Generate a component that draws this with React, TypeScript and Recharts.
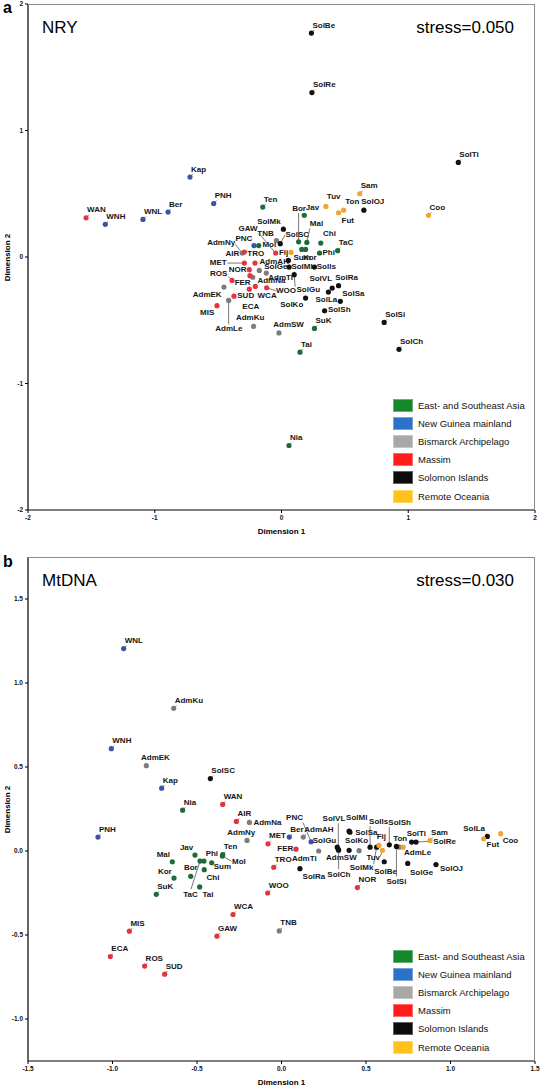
import { ScatterChart, Scatter, XAxis, YAxis } from "recharts";

const groups = [
  "East- and Southeast Asia",
  "New Guinea mainland",
  "Bismarck Archipelago",
  "Massim",
  "Solomon Islands",
  "Remote Oceania",
];
const dotColors = ["#1d6a3b", "#3d52a4", "#7c7c7c", "#e5343d", "#111111", "#f0a432"];
const swatchColors = ["#16882a", "#2a73c9", "#a8a8a8", "#ff1c1c", "#0c0c0c", "#ffc21a"];

// panel a: NRY
const nryNames = [
  "Ten", "Jav", "Bor", "Mal", "Chi", "Phi", "TaC", "Sum", "Kor", "Mol", "SuK", "Tai", "Nia",
  "Kap", "PNH", "Ber", "WNL", "WNH", "PNC",
  "TNB", "AdmNy", "AdmTi", "AdmAH", "AdmNa", "AdmEK", "AdmLe", "AdmKu", "AdmSW",
  "WAN", "AIR", "GAW", "MET", "TRO", "NOR", "FER", "ROS", "ECA", "WCA", "WOO", "SUD", "MIS",
  "SolBe", "SolRe", "SolTi", "SolOJ", "SolMk", "SolSC", "SolGe", "SolMl", "Solls", "SolGu",
  "SolVL", "SolSa", "SolRa", "SolLa", "SolKo", "SolSh", "SolSi", "SolCh",
  "Tuv", "Ton", "Fut", "Sam", "Coo", "Fij",
];
const nryX = [
  -0.148, 0.18, 0.135, 0.2, 0.31, 0.3, 0.443, 0.16, 0.19, -0.18, 0.26, 0.146, 0.059,
  -0.722, -0.535, -0.895, -1.093, -1.39, -0.217,
  -0.04, -0.31, -0.175, -0.12, -0.227, -0.454, -0.417, -0.22, -0.02,
  -1.542, -0.293, -0.046, -0.293, -0.209, -0.254, -0.249, -0.39, -0.254, -0.207, -0.117, -0.375, -0.509,
  0.236, 0.24, 1.395, 0.65, 0.015, -0.01, 0.054, 0.06, 0.26, 0.1,
  0.37, 0.4, 0.45, 0.464, 0.19, 0.34, 0.81, 0.927,
  0.35, 0.49, 0.45, 0.617, 1.16, 0.075,
];
const nryY = [
  0.395, 0.33, 0.12, 0.115, 0.11, 0.03, 0.05, 0.06, 0.06, 0.09, -0.565, -0.752, -1.49,
  0.632, 0.423, 0.355, 0.297, 0.258, 0.09,
  0.13, 0.03, -0.106, -0.127, -0.16, -0.238, -0.343, -0.549, -0.6,
  0.31, 0.039, 0.031, -0.048, -0.048, -0.1, -0.148, -0.185, -0.254, -0.233, -0.243, -0.31, -0.385,
  1.77, 1.3, 0.748, 0.37, 0.22, 0.105, -0.027, -0.08, -0.08, -0.14,
  -0.277, -0.246, -0.227, -0.35, -0.325, -0.425, -0.517, -0.73,
  0.4, 0.37, 0.35, 0.5, 0.33, 0.036,
];
const nryGroup = [
  0, 0, 0, 0, 0, 0, 0, 0, 0, 0, 0, 0, 0,
  1, 1, 1, 1, 1, 1,
  2, 2, 2, 2, 2, 2, 2, 2, 2,
  3, 3, 3, 3, 3, 3, 3, 3, 3, 3, 3, 3, 3,
  4, 4, 4, 4, 4, 4, 4, 4, 4, 4, 4, 4, 4, 4, 4, 4, 4, 4,
  5, 5, 5, 5, 5, 5,
];

// panel b: MtDNA
const mtNames = [
  "Ten", "Mol", "Jav", "Mal", "TaC", "Phi", "Sum", "Chi", "Bor", "Kor", "Tai", "SuK", "Nia",
  "WNL", "WNH", "Kap", "PNH", "Ber", "PNC",
  "AdmKu", "AdmEK", "AdmNa", "AdmNy", "AdmAH", "AdmTi", "AdmSW", "AdmLe", "TNB",
  "WAN", "AIR", "MET", "FER", "TRO", "WOO", "WCA", "GAW", "NOR", "MIS", "ECA", "ROS", "SUD",
  "SolSC", "SolRa", "SolMl", "SolSa", "SolVL", "SolGu", "SolCh", "SolKo", "Solls", "SolMk",
  "SolSh", "SolSi", "SolBe", "SolGe", "SolOJ", "SolTi", "SolRe", "SolLa",
  "Fij", "Tuv", "Ton", "Sam", "Fut", "Coo",
];
const mtX = [
  -0.348, -0.35, -0.512, -0.646, -0.482, -0.459, -0.413, -0.457, -0.537, -0.636, -0.484, -0.741, -0.585,
  -0.934, -1.007, -0.709, -1.086, 0.046, 0.175,
  -0.638, -0.8, -0.19, -0.204, 0.129, 0.22, 0.459, 0.697, -0.013,
  -0.348, -0.267, -0.08, 0.086, -0.046, -0.082, -0.287, -0.382, 0.449, -0.9, -1.013, -0.81, -0.691,
  -0.421, 0.109, 0.4, 0.405, 0.336, 0.33, 0.338, 0.4, 0.524, 0.563,
  0.638, 0.68, 0.608, 0.747, 0.914, 0.77, 0.796, 1.218,
  0.577, 0.597, 0.72, 0.879, 1.196, 1.297,
];
const mtY = [
  -0.022, -0.03, -0.024, -0.064, -0.06, -0.06, -0.07, -0.111, -0.151, -0.161, -0.214, -0.258, 0.243,
  1.205, 0.609, 0.374, 0.083, 0.083, 0.055,
  0.849, 0.508, 0.17, 0.063, 0.083, 0.0, 0.002, 0.023, -0.476,
  0.277, 0.176, 0.043, 0.011, -0.097, -0.25, -0.378, -0.507, -0.218, -0.477, -0.628, -0.685, -0.733,
  0.431, -0.105, 0.118, 0.112, 0.01, 0.023, 0.005, 0.004, 0.023, 0.023,
  0.037, 0.027, -0.064, -0.074, -0.081, 0.053, 0.053, 0.087,
  0.033, 0.004, 0.023, 0.063, 0.073, 0.103,
];
const mtGroup = nryGroup.slice();

const xTicksA = [-2, -1, 0, 1, 2];
const yTicksA = [-2, -1, 0, 1, 2];
const xTicksB = [-1.5, -1.0, -0.5, 0.0, 0.5, 1.0, 1.5];
const yTicksB = [-1.0, -0.5, 0.0, 0.5, 1.0, 1.5];

// label placement: [dx, baseline dy, anchor, leader x, leader y]
type Pos = [number, number, string?, number?, number?];
const nryLabelPos: Record<string, Pos> = {
  GAW: [-18, -22, "end", -17, -20],
  TNB: [-2.7, -4.7, "end"],
  SolMk: [-2.7, -4.7, "end"],
  SolSC: [5.3, -6.7, "start", 5, -9],
  Jav: [1.5, -5],
  Bor: [7.3, -31, "end", 0, -29],
  Mal: [3, -16, "start", 3, -14],
  Chi: [2.3, -7],
  Mol: [3.7, 1.7],
  PNC: [-1.7, -4.7, "end"],
  AdmNy: [-7, -8.3, "end", -7, -9],
  AIR: [-5, 3.7, "end"],
  TRO: [-7.7, -7.3],
  Fij: [-2.7, 2.3, "end"],
  Sum: [-8.3, 10.7],
  Kor: [-2.7, 10.7],
  Phi: [3, 1.7],
  MET: [-17.7, 1.7, "end", -17, 0],
  AdmAH: [-6.7, -9],
  SolGe: [-1, 8.7, "end"],
  SolMl: [2.3, 1.7],
  Solls: [2.3, 1.7],
  NOR: [-2.7, 2.3, "end"],
  AdmTi: [9, 9.3],
  ROS: [-4.7, -4, "end", -4, -4],
  FER: [-15.3, 9.7],
  AdmNa: [4.7, 5.7],
  SolVL: [-19, -10.7],
  SolRa: [-3.3, -5.3],
  SolSa: [10, 7.7],
  SolGu: [2.3, 17.7, "start", 1, 12],
  SolLa: [-3, 1, "end"],
  SolKo: [-2.3, 9, "end"],
  SolSh: [3.3, 1.7],
  WOO: [9.3, 5.3, "start", 9, 3],
  WCA: [2.3, 12],
  SUD: [3.3, 2],
  ECA: [-7, 19.7],
  AdmEK: [-2.3, 10, "end"],
  MIS: [-2.7, 9.7, "end"],
  AdmLe: [-13.3, 30.3, "start", 0, 24],
  AdmKu: [-17.7, -6],
  AdmSW: [-5.7, -5.7],
  Tuv: [1, -7.3],
  Ton: [1.7, -6],
  SolOJ: [-2.7, -6],
  Fut: [3, 10],
};
const mtLabelPos: Record<string, Pos> = {
  AdmEK: [-5.3, -5.7],
  AdmNa: [4, 2.3],
  AdmNy: [-19.7, -5.7],
  PNC: [-25, -21.3, "start", -8, -19],
  FER: [-2.7, 2.3, "end"],
  AdmTi: [-2, 10, "end"],
  SolRa: [2.7, 10],
  Mal: [-2.3, -4.7, "end"],
  Jav: [-1.7, -4.7, "end"],
  Phi: [1.7, -4.7],
  TaC: [-16.7, 36, "start", -9, 28],
  Bor: [7, -6, "end"],
  Chi: [2.3, 10],
  Sum: [2, 6.7],
  Mol: [9.7, 7.7, "start", 9, 5],
  Kor: [-2.3, -4.3, "end"],
  Tai: [2.7, 10],
  SolVL: [7, -28.3, "end", 0, -26],
  SolMl: [-3, -11.3],
  SolSa: [5.3, 2.7],
  SolGu: [-1, -4, "end"],
  SolKo: [-4, -7.3],
  AdmSW: [-2.3, 9.3, "end"],
  SolCh: [-11.3, 26.7, "start", 0, 19],
  SolMk: [-3.3, 23.3, "end", -3, 17],
  Solls: [-1, -23.3, "start", 0, -21],
  Fij: [-2.3, -6.7],
  Tuv: [-2.3, 10, "end", -2, 6],
  SolSh: [-1, -20, "start", 0, -18],
  Ton: [-10, -6],
  SolSi: [-10, 37.3, "start", 0, 30],
  SolBe: [-10, 12],
  AdmLe: [4.7, 8.3],
  SolGe: [2.3, 12],
  SolOJ: [4, 6.3],
  SolTi: [-5, -6],
  SolRe: [17.3, 1.7, "start", 16, -1],
  SolLa: [-2.3, -5.3, "end"],
  Fut: [3, 8.3],
  Coo: [2, 9],
};

const FONT = "Arial, 'Liberation Sans', Helvetica, sans-serif";

function buildSeries(names: string[], xs: number[], ys: number[], grp: number[], pos: Record<string, Pos>) {
  const rows = names.map((name, i) => ({ name, x: xs[i], y: ys[i], g: grp[i], pos: pos[name] }));
  return groups.map((_, g) => rows.filter((r) => r.g === g));
}

function PointMark(props: any) {
  const { cx, cy, payload, color } = props;
  if (cx == null || cy == null) return null;
  const [dx, dy, anchor = "start", lx, ly] = (payload.pos || [1, -5.5]) as Pos;
  const lead =
    lx !== undefined && ly !== undefined ? (
      <line x1={cx} y1={cy} x2={cx + lx} y2={cy + ly} stroke="#555" strokeWidth={0.8} />
    ) : !payload.pos ? (
      <line x1={cx + 0.5} y1={cy - 0.5} x2={cx + 2.8} y2={cy - 3} stroke="#555" strokeWidth={0.7} />
    ) : null;
  return (
    <g>
      {lead}
      <circle cx={cx} cy={cy} r={2.6} fill={color} />
      <text
        x={cx + dx}
        y={cy + dy}
        textAnchor={anchor as any}
        fontSize={8}
        fontWeight="bold"
        fontFamily={FONT}
        fill="#151515"
      >
        {payload.name}
      </text>
    </g>
  );
}

interface PanelProps {
  top: number;
  height: number;
  marginTop: number;
  marginBottom: number;
  xAxisHeight: number;
  series: any[][];
  xDomain: number[];
  yDomain: number[];
  xTicks: number[];
  yTicks: number[];
  decimals: number;
  title: string;
  stress: string;
}

function Panel(p: PanelProps) {
  const left = 28;
  const right = 535;
  const plotTop = p.marginTop;
  const plotBottom = p.height - p.marginBottom - p.xAxisHeight;
  const fmt = (v: number) => (p.decimals ? v.toFixed(p.decimals) : String(v));
  const tickStyle = { fontSize: 6.5, fontWeight: "bold", fill: "#111", fontFamily: FONT };
  return (
    <div style={{ position: "absolute", left: 0, top: p.top, width: 541, height: p.height }}>
      <ScatterChart
        width={541}
        height={p.height}
        margin={{ top: p.marginTop, right: 541 - right, bottom: p.marginBottom, left: 8 }}
      >
        <XAxis
          type="number"
          dataKey="x"
          domain={p.xDomain}
          ticks={p.xTicks}
          interval={0}
          tickFormatter={fmt}
          axisLine={{ stroke: "#000", strokeWidth: 1.2 }}
          tickLine={{ stroke: "#000" }}
          tickSize={3}
          tick={tickStyle}
          height={p.xAxisHeight}
          allowDataOverflow
        />
        <YAxis
          type="number"
          dataKey="y"
          domain={p.yDomain}
          ticks={p.yTicks}
          interval={0}
          tickFormatter={fmt}
          axisLine={{ stroke: "#000", strokeWidth: 1.2 }}
          tickLine={{ stroke: "#000" }}
          tickSize={3}
          tick={tickStyle}
          width={20}
          allowDataOverflow
        />
        {p.series.map((data, g) => (
          <Scatter
            key={groups[g]}
            name={groups[g]}
            data={data}
            fill={dotColors[g]}
            isAnimationActive={false}
            shape={(sp: any) => <PointMark {...sp} color={dotColors[g]} />}
          />
        ))}
      </ScatterChart>
      {/* frame on top and right */}
      <div
        style={{
          position: "absolute",
          left,
          top: plotTop,
          width: right - left,
          height: plotBottom - plotTop,
          borderTop: "1px solid #8c8c8c",
          borderRight: "1.5px solid #8c8c8c",
          boxSizing: "border-box",
          pointerEvents: "none",
        }}
      />
      <div style={{ position: "absolute", left: 42, top: plotTop + 15, fontFamily: FONT, fontSize: 17, lineHeight: "17px" }}>
        {p.title}
      </div>
      <div style={{ position: "absolute", right: 27, top: plotTop + 15, fontFamily: FONT, fontSize: 17, lineHeight: "17px" }}>
        {p.stress}
      </div>
      <div
        style={{
          position: "absolute",
          left: 3,
          top: (plotTop + plotBottom) / 2 - 25,
          width: 10,
          height: 50,
          display: "flex",
          alignItems: "center",
          justifyContent: "center",
        }}
      >
        <span
          style={{
            transform: "rotate(-90deg)",
            fontFamily: FONT,
            fontWeight: "bold",
            fontSize: 8,
            whiteSpace: "nowrap",
          }}
        >
          Dimension 2
        </span>
      </div>
      <div
        style={{
          position: "absolute",
          left: (left + right) / 2,
          top: plotBottom + 17,
          transform: "translateX(-50%)",
          fontFamily: FONT,
          fontWeight: "bold",
          fontSize: 8,
          lineHeight: "10px",
          whiteSpace: "nowrap",
        }}
      >
        Dimension 1
      </div>
      <div style={{ position: "absolute", left: 393, top: plotBottom - 114 }}>
        {groups.map((gname, g) => (
          <div key={gname} style={{ display: "flex", alignItems: "center", height: 18.2 }}>
            <div style={{ width: 20, height: 13, background: swatchColors[g], boxShadow: "inset 0 0 0 1px rgba(255,255,255,0.35)" }} />
            <span style={{ marginLeft: 5, fontFamily: FONT, fontSize: 9.5, color: "#111", whiteSpace: "nowrap" }}>{gname}</span>
          </div>
        ))}
      </div>
    </div>
  );
}

const letterStyle = {
  position: "absolute" as const,
  left: 3,
  fontFamily: FONT,
  fontWeight: 700,
  fontSize: 16,
  lineHeight: "16px",
  color: "#000",
  whiteSpace: "nowrap" as const,
  zIndex: 10,
};

export default function App() {
  const nrySeries = buildSeries(nryNames, nryX, nryY, nryGroup, nryLabelPos);
  const mtSeries = buildSeries(mtNames, mtX, mtY, mtGroup, mtLabelPos);
  return (
    <div style={{ position: "absolute", left: 0, top: 0, width: 541, height: 1086, background: "#fff" }}>
      <Panel
        top={0}
        height={545}
        marginTop={4}
        marginBottom={5}
        xAxisHeight={30}
        series={nrySeries}
        xDomain={[-2, 2]}
        yDomain={[-2, 2]}
        xTicks={xTicksA}
        yTicks={yTicksA}
        decimals={0}
        title="NRY"
        stress="stress=0.050"
      />
      <Panel
        top={545}
        height={541}
        marginTop={12}
        marginBottom={3}
        xAxisHeight={22}
        series={mtSeries}
        xDomain={[-1.5, 1.5]}
        yDomain={[-1.25, 1.75]}
        xTicks={xTicksB}
        yTicks={yTicksB}
        decimals={1}
        title="MtDNA"
        stress="stress=0.030"
      />
      <div style={{ ...letterStyle, top: 0 }}>a</div>
      <div style={{ ...letterStyle, top: 554 }}>b</div>
    </div>
  );
}
